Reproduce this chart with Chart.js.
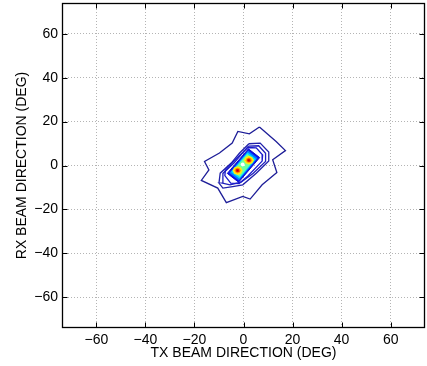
<!DOCTYPE html>
<html>
<head>
<meta charset="utf-8">
<script src="https://cdn.jsdelivr.net/npm/chart.js@4/dist/chart.umd.min.js"></script>
<style>
  html, body { margin: 0; padding: 0; background: #ffffff; }
  #wrap { width: 427px; height: 366px; }
</style>
</head>
<body>
<div id="wrap"><canvas id="c" width="427" height="366"></canvas></div>
<script>
// Axis settings (degrees)
const axisMin = -74;
const axisMax = 74;
const tickValues = [-60, -40, -20, 0, 20, 40, 60];

// Contour lines, [tx, rx] in degrees, outermost first
const contourOuter = [[6.5,17.5],[2.4,14.4],[-2.3,15.5],[-4.6,10.2],[-9.8,5.7],[-15.9,1.8],[-14.1,-2.0],[-17.2,-6.8],[-10.5,-10.3],[-7.0,-16.9],[-0.3,-14.1],[2.7,-15.3],[7.6,-8.8],[13.6,-3.2],[11.9,2.6],[17.1,6.8],[13.3,10.9],[6.5,17.5]];
const contourMid = [[2.2,9.9],[6.8,10.2],[10.3,6.1],[10.3,2.1],[5.2,-3.5],[-0.3,-8.8],[-4.4,-9.6],[-8.4,-10.3],[-10.0,-8.0],[-9.5,-3.5],[-5.0,1.1],[-1.6,5.7],[2.2,9.9]];
const contourInner = [[2.0,8.8],[6.2,9.0],[9.0,5.6],[9.0,1.8],[4.0,-3.5],[-1.0,-7.6],[-5.5,-8.8],[-8.6,-8.0],[-8.4,-3.6],[-3.8,1.2],[2.0,8.8]];
const contourTight = [[1.8,8.2],[5.2,8.0],[7.8,4.8],[7.6,2.0],[1.8,-4.8],[-1.8,-8.2],[-5.2,-8.0],[-7.6,-4.6],[-7.4,-2.2],[-1.6,4.6],[1.8,8.2]];

// Filled core levels (low to high)
const coreLevel1 = [[2.0,7.6],[6.6,3.6],[-2.0,-7.6],[-6.6,-3.6],[2.0,7.6]];
const coreLevel2 = [[1.9,6.8],[5.8,3.4],[-1.9,-6.8],[-5.8,-3.4],[1.9,6.8]];
const coreLevel3 = [[1.7,6.0],[5.1,3.0],[-1.7,-6.0],[-5.1,-3.0],[1.7,6.0]];
const coreLevel4 = [[1.5,5.2],[4.4,2.6],[-1.5,-5.2],[-4.4,-2.6],[1.5,5.2]];

// Two peaks: upper-right (A) and lower-left (B)
const peakAYellow = [[4.2,2.4],[3.6,3.8],[2.2,4.4],[0.8,3.8],[0.2,2.4],[0.8,1.0],[2.2,0.4],[3.6,1.0],[4.2,2.4]];
const peakAOrange = [[3.5,2.4],[3.1,3.3],[2.2,3.7],[1.3,3.3],[0.9,2.4],[1.3,1.5],[2.2,1.1],[3.1,1.5],[3.5,2.4]];
const peakARed    = [[3.0,2.4],[2.8,3.0],[2.2,3.2],[1.6,3.0],[1.4,2.4],[1.6,1.8],[2.2,1.6],[2.8,1.8],[3.0,2.4]];
const peakATop    = [[2.6,2.4],[2.2,2.8],[1.8,2.4],[2.2,2.0],[2.6,2.4]];
const peakBYellow = [[-0.4,-2.3],[-1.0,-0.9],[-2.4,-0.3],[-3.8,-0.9],[-4.4,-2.3],[-3.8,-3.7],[-2.4,-4.3],[-1.0,-3.7],[-0.4,-2.3]];
const peakBOrange = [[-1.1,-2.3],[-1.5,-1.4],[-2.4,-1.0],[-3.3,-1.4],[-3.7,-2.3],[-3.3,-3.2],[-2.4,-3.6],[-1.5,-3.2],[-1.1,-2.3]];
const peakBRed    = [[-1.6,-2.3],[-1.8,-1.7],[-2.4,-1.5],[-3.0,-1.7],[-3.2,-2.3],[-3.0,-2.9],[-2.4,-3.1],[-1.8,-2.9],[-1.6,-2.3]];
const peakBTop    = [[-2.0,-2.3],[-2.4,-1.9],[-2.8,-2.3],[-2.4,-2.7],[-2.0,-2.3]];
// Saddle gap between the peaks
const saddleGap = [[0.6,0.5],[0.3,1.1],[-0.3,1.4],[-0.9,1.1],[-1.2,0.5],[-0.9,-0.1],[-0.3,-0.4],[0.3,-0.1],[0.6,0.5]];

const toPoints = arr => arr.map(p => ({x: p[0], y: p[1]}));

// Layers in drawing order (first drawn first)
const layers = [
  {data: contourOuter, line: '#1e1e98', width: 1.3},
  {data: contourMid,   line: '#2121aa', width: 1.3},
  {data: contourInner, line: '#2020bc', width: 1.3},
  {data: contourTight, line: '#1a1acc', width: 1.3},
  {data: coreLevel1, fillColor: '#0a0aee', line: '#1010c8', width: 1},
  {data: coreLevel2, fillColor: '#0078ff'},
  {data: coreLevel3, fillColor: '#00dcff'},
  {data: coreLevel4, fillColor: '#6effa0'},
  {data: peakAYellow, fillColor: '#ffee10'},
  {data: peakBYellow, fillColor: '#ffee10'},
  {data: saddleGap, fillColor: '#ffffff'},
  {data: peakAOrange, fillColor: '#ff9800'},
  {data: peakBOrange, fillColor: '#ff9800'},
  {data: peakARed, fillColor: '#f01000'},
  {data: peakBRed, fillColor: '#f01000'},
  {data: peakATop, fillColor: '#b00000'},
  {data: peakBTop, fillColor: '#b00000'}
];

const datasets = layers.map((l, i) => ({
  data: toPoints(l.data),
  showLine: true,
  pointRadius: 0,
  pointHoverRadius: 0,
  tension: 0,
  borderColor: l.line || l.fillColor,
  borderWidth: l.line ? l.width : 0,
  backgroundColor: l.fillColor || 'transparent',
  fill: l.fillColor ? 'shape' : false,
  order: layers.length - i
}));

const fmtTick = v => (v < 0 ? '\u2212' + Math.abs(v) : String(v));
const FONT = "'Liberation Sans', Arial, Helvetica, sans-serif";

// Black frame with inward tick marks on all four sides
const framePlugin = {
  id: 'frame',
  afterDraw(chart) {
    const {ctx, chartArea: a, scales: {x, y}} = chart;
    ctx.save();
    ctx.strokeStyle = '#000000';
    ctx.lineWidth = 1;
    const L = a.left + 0.5, R = a.right - 0.5, T = a.top + 0.5, B = a.bottom - 0.5;
    ctx.beginPath();
    const len = 5;
    x.ticks.forEach(t => {
      const px = Math.round(x.getPixelForValue(t.value)) + 0.5;
      ctx.moveTo(px, B); ctx.lineTo(px, B - len);
      ctx.moveTo(px, T); ctx.lineTo(px, T + len);
    });
    y.ticks.forEach(t => {
      const py = Math.round(y.getPixelForValue(t.value)) + 0.5;
      ctx.moveTo(L, py); ctx.lineTo(L + len, py);
      ctx.moveTo(R, py); ctx.lineTo(R - len, py);
    });
    ctx.stroke();
    ctx.lineWidth = 1.3;
    ctx.strokeRect(L, T, R - L, B - T);
    ctx.restore();
  }
};

new Chart(document.getElementById('c'), {
  type: 'scatter',
  data: {datasets},
  options: {
    responsive: false,
    devicePixelRatio: 1,
    animation: false,
    events: [],
    layout: {padding: {top: 3, right: 2, left: 0, bottom: 0}},
    plugins: {legend: {display: false}, tooltip: {enabled: false}},
    scales: {
      x: {
        type: 'linear',
        min: axisMin,
        max: axisMax,
        afterBuildTicks: s => { s.ticks = tickValues.map(v => ({value: v})); },
        afterFit: s => { s.height = 38; s.paddingLeft = 0; s.paddingRight = 0; },
        grid: {color: '#b4b4b4', lineWidth: 1, drawTicks: false},
        border: {display: false, dash: [1, 2]},
        ticks: {
          padding: 4,
          maxRotation: 0,
          color: '#000000',
          font: {family: FONT, size: 14},
          callback: v => fmtTick(v)
        },
        title: {
          display: true,
          text: 'TX BEAM DIRECTION (DEG)',
          color: '#000000',
          font: {family: FONT, size: 14},
          padding: {top: 0, bottom: 4}
        }
      },
      y: {
        type: 'linear',
        min: axisMin,
        max: axisMax,
        afterBuildTicks: s => { s.ticks = tickValues.map(v => ({value: v})); },
        afterFit: s => { s.width = 62; s.paddingTop = 0; s.paddingBottom = 0; },
        grid: {color: '#b4b4b4', lineWidth: 1, drawTicks: false},
        border: {display: false, dash: [1, 2]},
        ticks: {
          padding: 4,
          color: '#000000',
          font: {family: FONT, size: 14},
          callback: v => fmtTick(v)
        },
        title: {
          display: true,
          text: 'RX BEAM DIRECTION (DEG)',
          color: '#000000',
          font: {family: FONT, size: 14},
          padding: {top: 14, bottom: 0}
        }
      }
    }
  },
  plugins: [framePlugin]
});
</script>
</body>
</html>
